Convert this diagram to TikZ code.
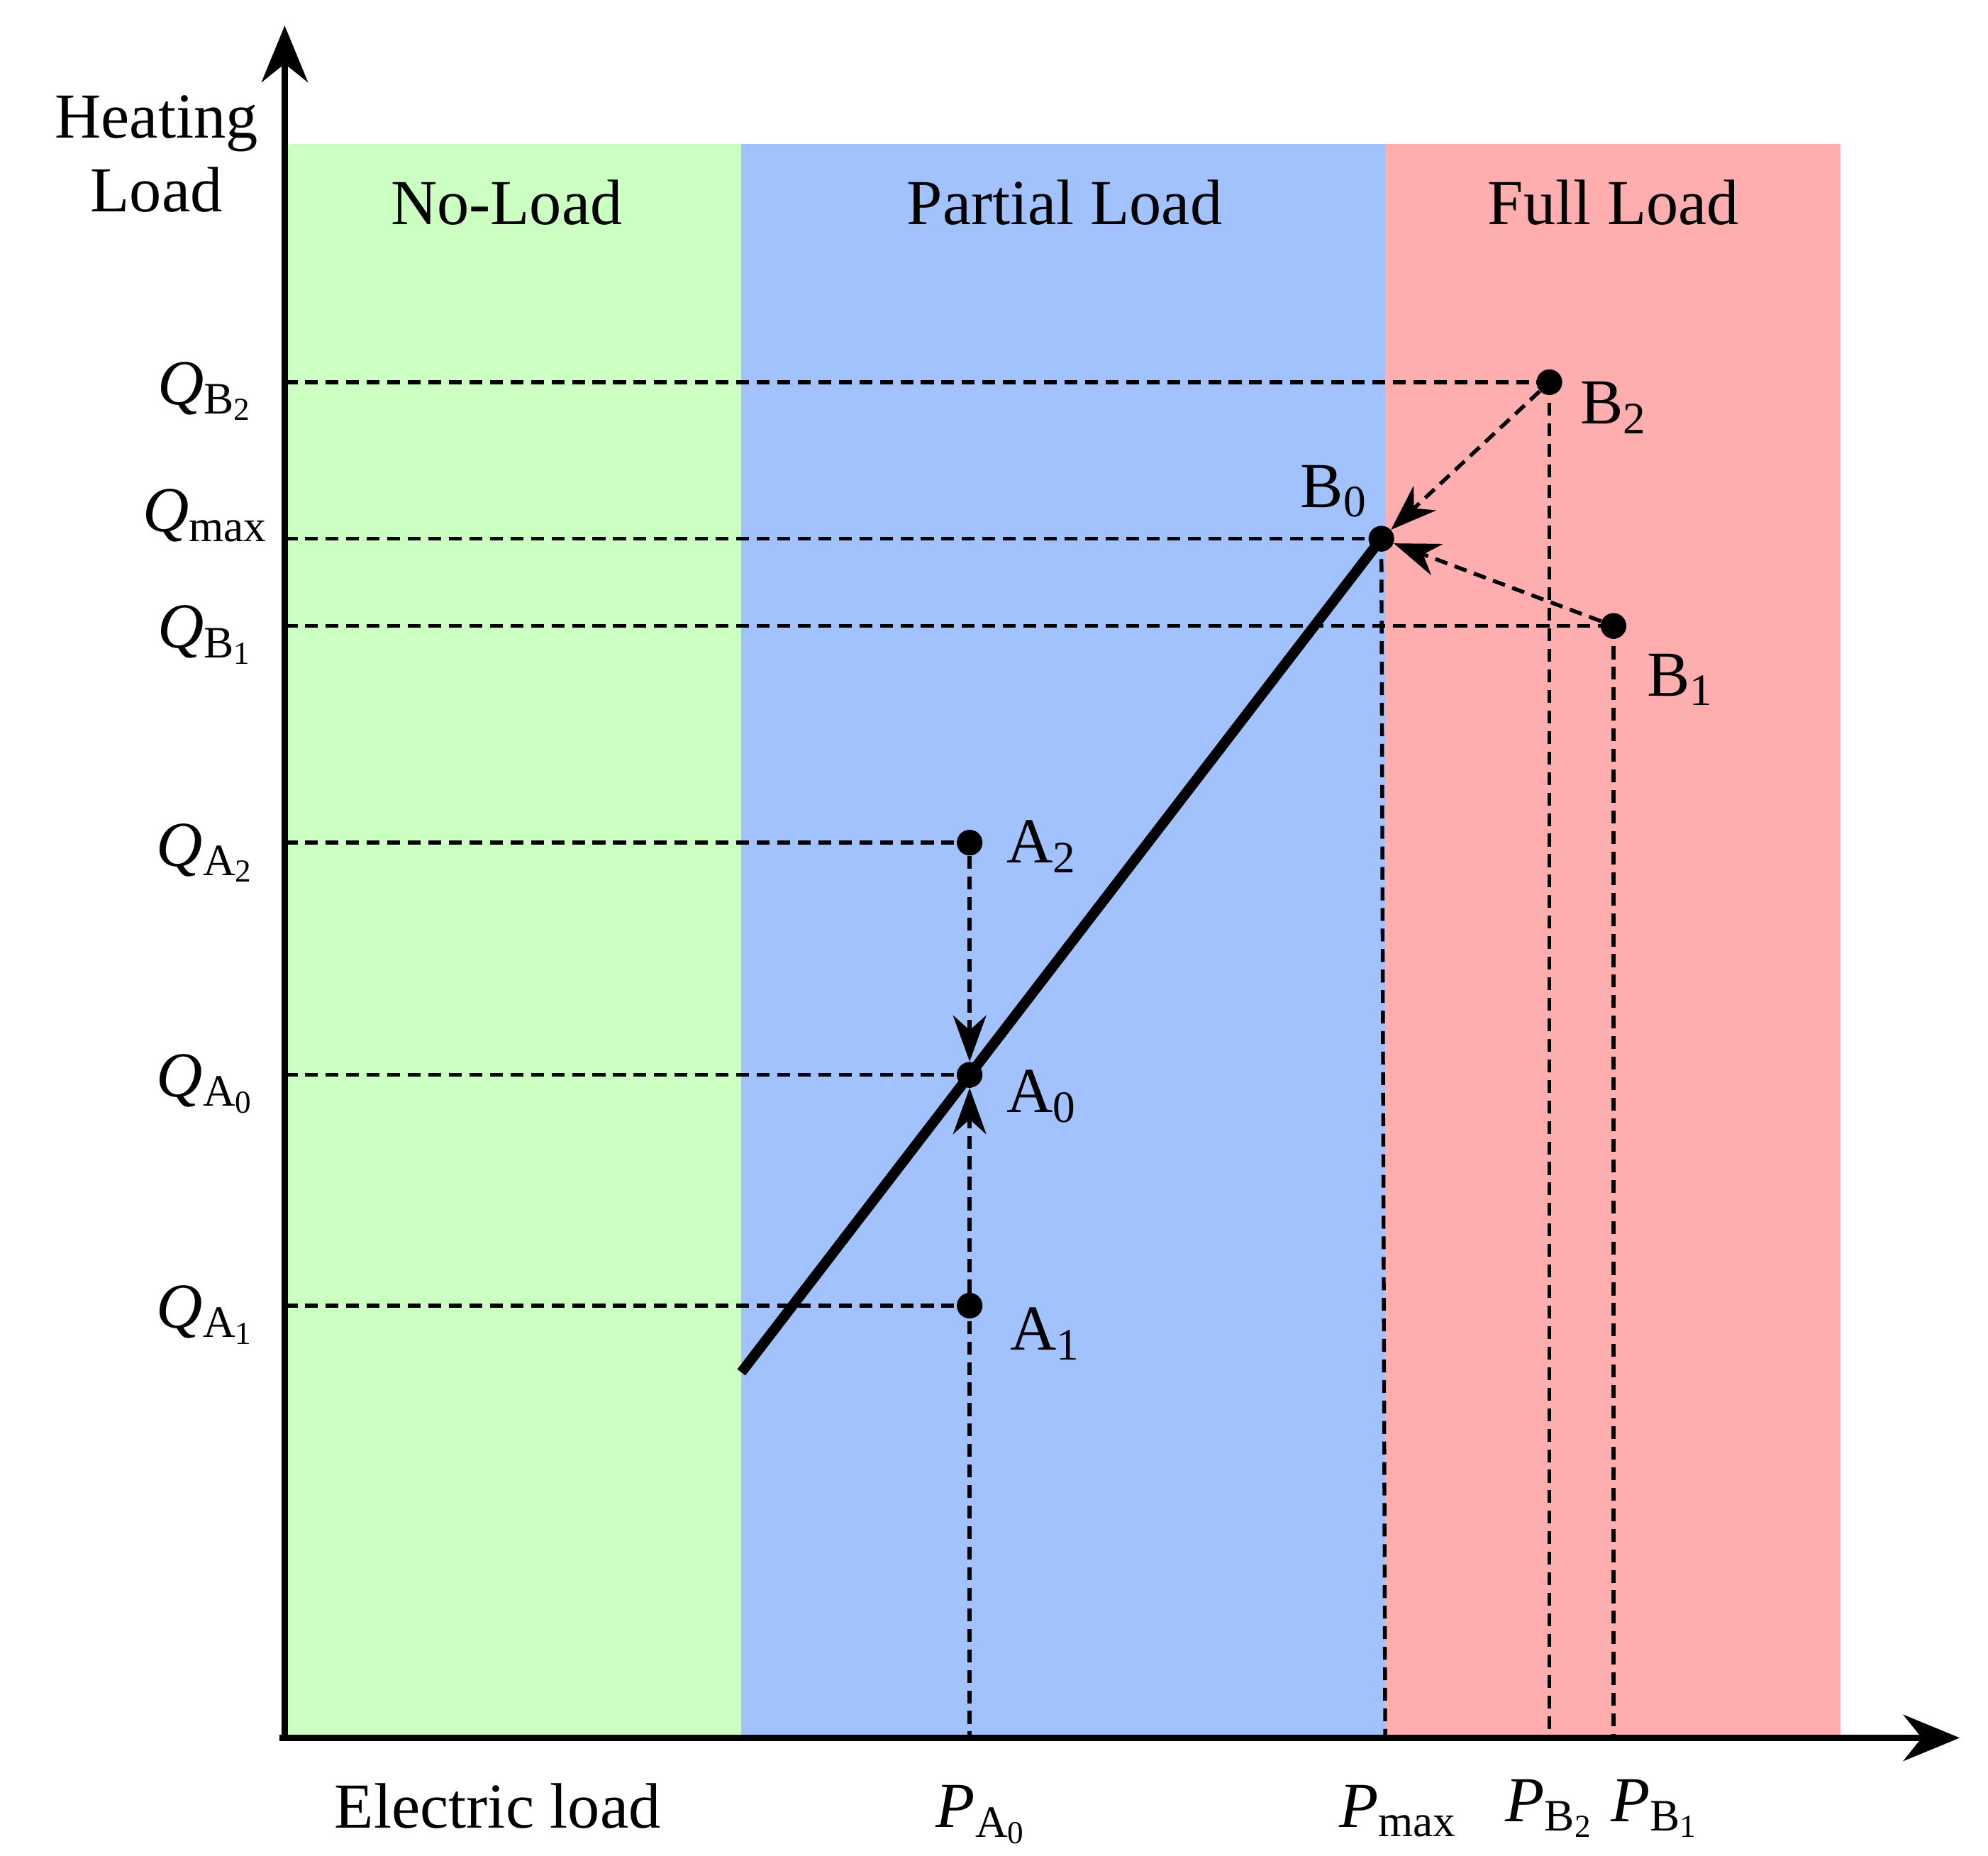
\documentclass[tikz,border=0pt]{standalone}
\usepackage{fontspec}
\setmainfont{Liberation Serif}
\usetikzlibrary{arrows.meta}
\definecolor{pblue}{HTML}{A2C2FE}
\definecolor{pgreen}{HTML}{CCFFC2}
\definecolor{pred}{HTML}{FEAEAE}
\begin{document}
\begin{tikzpicture}[x=0.5pt,y=-0.5pt,
  dsh/.style={dashed,line width=1.5pt,dash pattern=on 5pt off 3pt},
  dar/.style={dsh,-{Stealth[length=18pt,width=13pt,line width=0.01pt,fill=black]}},
  pt/.style={circle,fill=black,inner sep=0pt,minimum size=10pt},
  lab/.style={font=\fontsize{25}{29}\selectfont,inner sep=0pt},
  ax/.style={line width=2.5pt,-{Stealth[length=22pt,width=18pt]}}]
\useasboundingbox (0,0) rectangle (1550,1447);
\fill[pgreen] (222,112) rectangle (578,1355);
\fill[pblue] (578,112) rectangle (1080,1355);
\fill[pred] (1080,112) rectangle (1435,1355);
\node[lab] (nl) at (395,158) {No-Load};
\node[lab] (pl) at (830,158) {Partial Load};
\node[lab] (fl) at (1258,158) {Full Load};
\node[lab,align=center] (hl) at (122,120) {Heating\\Load};
\node[lab] (el) at (388,1408) {Electric load};
\node[pt] (B2) at (1208,298) {};
\node[pt] (B0) at (1077,420) {};
\node[pt] (B1) at (1258,488) {};
\node[pt] (A2) at (756,657) {};
\node[pt] (A0) at (756,838) {};
\node[pt] (A1) at (756,1018) {};
\coordinate (L0) at (578,1070);
\draw[line width=4pt] (L0) -- (B0.center);
\foreach \p/\y in {B2/298,B0/420,B1/488,A2/657,A0/838,A1/1018}{
  \coordinate (h\p) at (222,\y);
  \draw[dsh] (h\p) -- (\p.center);}
\foreach \p/\x in {B2/1208,B0/1080,B1/1258,A0/756}{
  \coordinate (v\p) at (\x,1355);
  \draw[dsh] (\p.center) -- (v\p);}
\draw[dar] (B2) -- (B0);
\draw[dar] (B1) -- (B0);
\draw[dar] (A2) -- (A0);
\draw[dar] (A1) -- (A0);
\coordinate (Yt) at (222,20);
\coordinate (Xt) at (1528,1355);
\draw[ax] (222,1357) -- (Yt);
\draw[ax] (218,1355) -- (Xt);
\node[lab] (lB2) at (1258,318) {B$_{\mathrm{2}}$};
\node[lab] (lB0) at (1040,383) {B$_{\mathrm{0}}$};
\node[lab] (lB1) at (1310,530) {B$_{\mathrm{1}}$};
\node[lab] (lA2) at (812,660) {A$_{\mathrm{2}}$};
\node[lab] (lA0) at (812,855) {A$_{\mathrm{0}}$};
\node[lab] (lA1) at (815,1040) {A$_{\mathrm{1}}$};
\node[lab] (qB2) at (160,305) {$\mathit{Q}_{\mathrm{B}_{\mathrm{2}}}$};
\node[lab] (qmax) at (160,402) {$\mathit{Q}_{\mathrm{max}}$};
\node[lab] (qB1) at (160,495) {$\mathit{Q}_{\mathrm{B}_{\mathrm{1}}}$};
\node[lab] (qA2) at (160,665) {$\mathit{Q}_{\mathrm{A}_{\mathrm{2}}}$};
\node[lab] (qA0) at (160,845) {$\mathit{Q}_{\mathrm{A}_{\mathrm{0}}}$};
\node[lab] (qA1) at (160,1025) {$\mathit{Q}_{\mathrm{A}_{\mathrm{1}}}$};
\node[lab] (pA0) at (765,1415) {$\mathit{P}_{\mathrm{A}_{\mathrm{0}}}$};
\node[lab] (pmax) at (1090,1412) {$\mathit{P}_{\mathrm{max}}$};
\node[lab] (pB2) at (1208,1410) {$\mathit{P}_{\mathrm{B}_{\mathrm{2}}}$};
\node[lab] (pB1) at (1290,1410) {$\mathit{P}_{\mathrm{B}_{\mathrm{1}}}$};
\end{tikzpicture}
\end{document}
